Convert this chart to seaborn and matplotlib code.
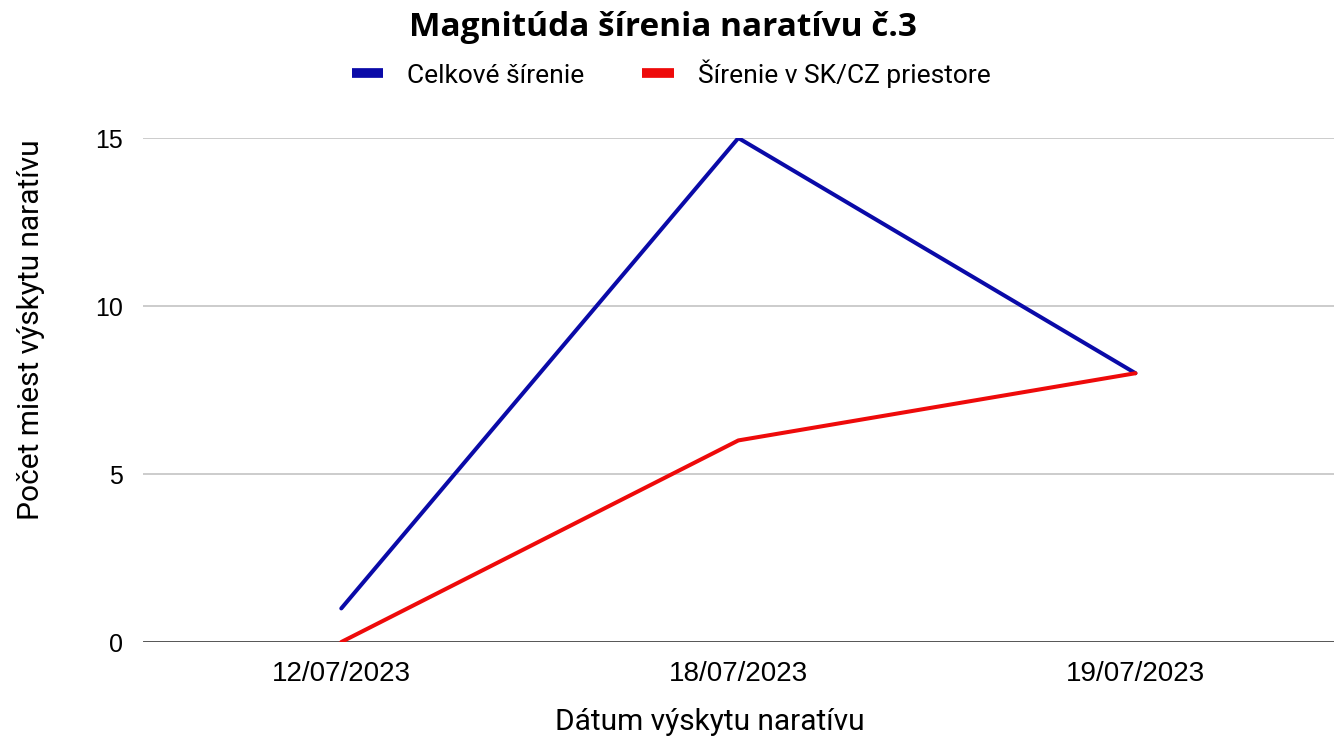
# Magnitúda šírenia naratívu č.3 - line chart

import pandas as pd
import matplotlib
matplotlib.use("Agg")
import matplotlib.pyplot as plt
import seaborn as sns

# 1. Data
datumy = ["12/07/2023", "18/07/2023", "19/07/2023"]
celkove = [1, 15, 8]
sk_cz = [0, 6, 8]
serie_nazvy = ["Celkové šírenie", "Šírenie v SK/CZ priestore"]
y_ticks = [0, 5, 10, 15]

df = pd.DataFrame({
    "datum": datumy * 2,
    "pocet": celkove + sk_cz,
    "seria": [serie_nazvy[0]] * len(datumy) + [serie_nazvy[1]] * len(datumy),
})

# 2. Style
sns.set_style("white")
plt.rcParams["font.family"] = ["Liberation Sans", "DejaVu Sans"]
plt.rcParams["text.color"] = "black"
plt.rcParams["xtick.color"] = "black"
plt.rcParams["ytick.color"] = "black"

fig = plt.figure(figsize=(13.34, 7.40), dpi=100)
ax = fig.add_axes([0.107, 0.1324, 0.893, 0.6811])

palette = {serie_nazvy[0]: "#0a0aa8", serie_nazvy[1]: "#ee0a0a"}
sns.lineplot(data=df, x="datum", y="pocet", hue="seria", palette=palette,
             linewidth=2.9, ax=ax, legend=False, sort=False)

ax.set_xlim(-0.5, 2.5)
ax.set_ylim(0, 15)
ax.set_yticks(y_ticks)
ax.grid(axis="y", color="#cccccc", linewidth=1.4)
ax.set_axisbelow(True)
ax.axhline(0, color="#333333", linewidth=1.8, zorder=1)
for s in ax.spines.values():
    s.set_visible(False)
ax.tick_params(axis="both", length=0)
ax.tick_params(axis="x", labelsize=20, pad=14)
ax.tick_params(axis="y", labelsize=18, pad=14)
ax.set_xlabel("")
ax.set_ylabel("")

# axis titles placed on the figure
fig.text(0.532, 0.024, "Dátum výskytu naratívu", ha="center", va="center",
         fontsize=21.5, family="Roboto")
fig.text(0.023, 0.554, "Počet miest výskytu naratívu", ha="center", va="center",
         rotation=90, fontsize=21.5, family="Roboto")

# 3. Title + legend
fig.text(0.497, 0.963, "Magnitúda šírenia naratívu č.3", ha="center", va="center",
         fontsize=24, fontweight="bold", family="Open Sans")
handles = [plt.Line2D([], [], color=palette[n], linewidth=7, solid_capstyle="butt")
           for n in serie_nazvy]
fig.legend(handles, serie_nazvy, loc="center", bbox_to_anchor=(0.503, 0.901), ncol=2,
           frameon=False, prop={"family": "Roboto", "size": 19},
           handlelength=1.2, columnspacing=2.2, handletextpad=0.9)

fig.savefig("out.png", dpi=100)
